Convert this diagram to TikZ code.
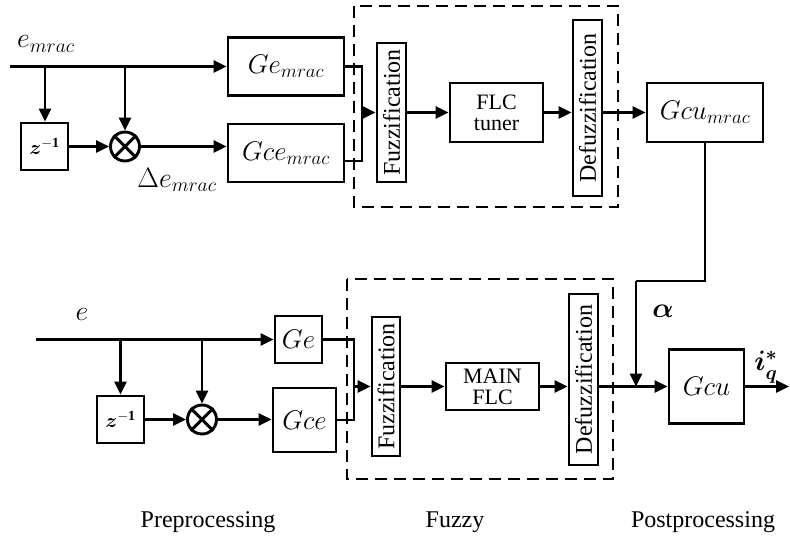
\documentclass[tikz,border=0pt]{standalone}
\usepackage{fix-cm}
\usepackage{amsmath}
\usepackage{fontspec}
\setmainfont{Liberation Serif}
\usetikzlibrary{arrows.meta}
\begin{document}
\begin{tikzpicture}[x=1pt,y=-1pt,
  lw/.style={line width=2.9pt},
  box/.style={draw,lw,inner sep=0pt,font=\fontsize{27}{29}\selectfont},
  txt/.style={font=\fontsize{22}{21}\selectfont,align=center},
  vlab/.style={rotate=90,inner sep=0pt,font=\fontsize{24}{25}\selectfont},
  mult/.style={draw,circle,lw,minimum size=29pt,inner sep=0pt},
  zlab/.style={font=\fontsize{20}{22}\selectfont},
  lab/.style={font=\fontsize{28}{30}\selectfont},
  sectlab/.style={font=\fontsize{24}{26}\selectfont},
  conn/.style={lw},
  arr/.style={lw,-{Triangle[length=13pt,width=12pt]}},
  dbox/.style={line width=2pt,dash pattern=on 12pt off 7pt}]
\useasboundingbox (0,0) rectangle (790,537);

% ---------- top (MRAC tuner) ----------
\node[box,minimum width=116pt,minimum height=58pt] (Gem) at (286,66.5) {$Ge_{mrac}$};
\node[box,minimum width=116pt,minimum height=58pt] (Gcem) at (286,153) {$Gce_{mrac}$};
\node[box,minimum size=47pt] (z1) at (44.5,146.5) {};
\node[zlab] (z1t) at (z1) {$\boldsymbol{z}^{\mathbf{-1}}$};
\node[mult] (m1) at (125,146.5) {};
\draw[lw] (m1.45) -- (m1.225) (m1.135) -- (m1.315);
\node[box,minimum width=29pt,minimum height=139pt] (Fz1) at (391.5,112.5) {};
\node[vlab] (Fz1t) at (Fz1) {Fuzzification};
\node[box,txt,minimum width=93pt,minimum height=59pt] (FLC1) at (496.5,112.5) {FLC\\tuner};
\node[box,minimum width=29pt,minimum height=176pt] (Df1) at (587.5,108) {};
\node[vlab] (Df1t) at (Df1) {Defuzzification};
\node[box,minimum width=116pt,minimum height=59pt] (Gcum) at (705,112.5) {$Gcu_{mrac}$};
\draw[dbox] (354,6) rectangle (618,207);

\coordinate (in1) at (10,66.5);
\coordinate (b1) at (45,66.5);
\coordinate (b2) at (125,66.5);
\coordinate (j1) at (362,112.5);
\draw[arr] (in1) -- (in1 -| Gem.west);
\draw[arr] (b1) -- (b1 |- z1.north);
\draw[arr] (b2) -- (m1.north);
\draw[arr] (z1.east) -- (m1.west);
\draw[arr] (m1.east) -- (m1.east -| Gcem.west);
\draw[conn] (Gem.east) -| (j1);
\draw[conn] ([yshift=-8pt]Gcem.east) -| (j1);
\draw[arr] (j1) -- (j1 -| Fz1.west);
\draw[arr] (Fz1.east) -- (FLC1.west);
\draw[arr] (FLC1.east) -- (FLC1.east -| Df1.west);
\draw[arr] (Df1.east |- Gcum.west) -- (Gcum.west);

\node[lab] (lem) at (46,44) {$e_{mrac}$};
\node[lab] (lde) at (177,180) {$\Delta e_{mrac}$};

% ---------- bottom (main FLC) ----------
\node[box,minimum size=47pt] (Ge) at (298.5,339.5) {$Ge$};
\node[box,minimum size=47pt] (z2) at (120.5,419.5) {};
\node[zlab] (z2t) at (z2) {$\boldsymbol{z}^{\mathbf{-1}}$};
\node[mult] (m2) at (202,419.5) {};
\draw[lw] (m2.45) -- (m2.225) (m2.135) -- (m2.315);
\node[box,minimum width=63pt,minimum height=64pt] (Gce) at (304.5,420) {$Gce$};
\node[box,minimum width=28pt,minimum height=139pt] (Fz2) at (386,386.5) {};
\node[vlab] (Fz2t) at (Fz2) {Fuzzification};
\node[box,txt,minimum width=93pt,minimum height=47pt] (FLC2) at (492.5,386.5) {MAIN\\FLC};
\node[box,minimum width=29pt,minimum height=171pt] (Df2) at (583.5,379.5) {};
\node[vlab] (Df2t) at (Df2) {Defuzzification};
\node[box,minimum width=75pt,minimum height=74pt] (Gcu) at (706.5,386.5) {$Gcu$};
\draw[dbox] (347,279) rectangle (613,479);

\coordinate (in2) at (36,339.5);
\coordinate (b3) at (120.5,339.5);
\coordinate (b4) at (202,339.5);
\coordinate (j2) at (354,386.5);
\coordinate (k1) at (636,281);
\coordinate (k2) at (636,386.5);
\coordinate (out) at (789,386.5);
\draw[arr] (in2) -- (Ge.west);
\draw[arr] (b3) -- (z2.north);
\draw[arr] (b4) -- (m2.north);
\draw[arr] (z2.east) -- (m2.west);
\draw[arr] (m2.east) -- (m2.east -| Gce.west);
\draw[conn] (Ge.east) -| (j2);
\draw[conn] (Gce.east) -| (j2);
\draw[arr] (j2) -- (j2 -| Fz2.west);
\draw[arr] (Fz2.east) -- (FLC2.west);
\draw[arr] (FLC2.east) -- (FLC2.east -| Df2.west);
\draw[arr] (Df2.east |- Gcu.west) -- (Gcu.west);
\draw[arr] (Gcu.east) -- (out);
\draw[conn] (Gcum.south) |- (k1);
\draw[arr] (k1) -- (k2);

\node[lab] (le) at (82,314) {$e$};
\node[lab] (lal) at (663,311) {$\boldsymbol{\alpha}$};
\node[lab] (liq) at (766,367) {$\boldsymbol{i_q^*}$};

\node[sectlab] (lpre) at (208,522) {Preprocessing};
\node[sectlab] (lfz) at (455,522) {Fuzzy};
\node[sectlab] (lpost) at (703,522) {Postprocessing};
\end{tikzpicture}
\end{document}
